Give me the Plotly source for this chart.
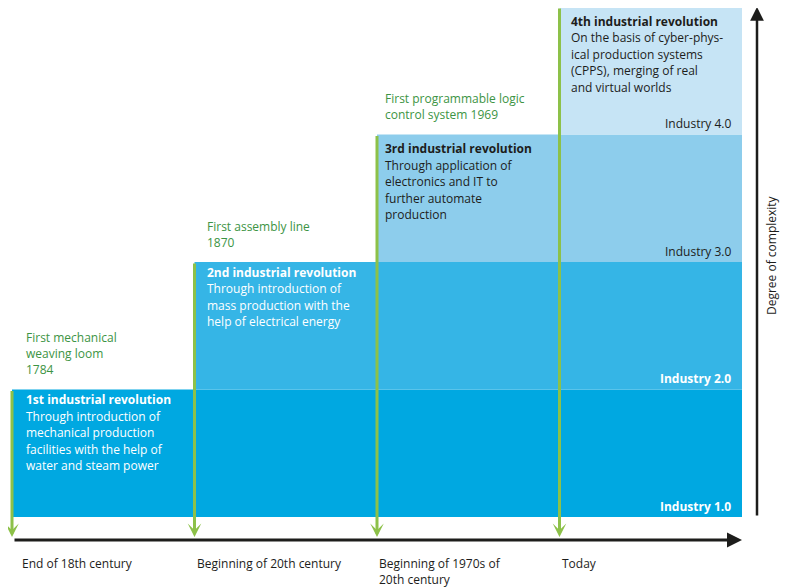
import plotly.graph_objects as go

# ---------------- data ----------------
stage_index = [0, 1, 2, 3]
stage_labels = [["End of 18th century"], ["Beginning of 20th century"],
                ["Beginning of 1970s of", "20th century"], ["Today"]]
level_index = [1, 2, 3, 4]
level_labels = ["Industry 1.0", "Industry 2.0", "Industry 3.0", "Industry 4.0"]
revolution_titles = ["1st industrial revolution", "2nd industrial revolution",
                     "3rd industrial revolution", "4th industrial revolution"]
revolution_texts = [
    ["Through introduction of", "mechanical production",
     "facilities with the help of", "water and steam power"],
    ["Through introduction of", "mass production with the",
     "help of electrical energy"],
    ["Through application of", "electronics and IT to",
     "further automate", "production"],
    ["On the basis of cyber-phys-", "ical production systems",
     "(CPPS), merging of real", "and virtual worlds"],
]
milestones = [["First mechanical", "weaving loom", "1784"],
              ["First assembly line", "1870"],
              ["First programmable logic", "control system 1969"],
              None]
y_title = "Degree of complexity"

# ---------------- styles ----------------
band_colors = ["#00A8E1", "#35B5E6", "#8DCDEC", "#C6E4F5"]
text_colors = ["#FFFFFF", "#FFFFFF", "#1D1D1B", "#1D1D1B"]
green_line = "#8DC149"
green_text = "#3C9444"
dark = "#1D1D1B"
FONT = "Open Sans"
PXX = 182.5    # pixels per stage
PXY = 127.5    # pixels per level
W, H = 782, 580   # page body has an 8px margin
X0PX, Y0PX = 4, 509  # plot-pixel position of stage 0 / level 0
n_stages = len(stage_index)
n_levels = len(level_index)
text_dx = [12, 10, 6, 9]
rev_first = [10, 10, 14, 14]
stage_dx = [8, 0, 0, 0]

fig = go.Figure()
fig.add_trace(go.Scatter(x=[0], y=[0], mode="markers", marker=dict(opacity=0),
                         hoverinfo="skip", showlegend=False))

shapes = []
annotations = []


def add_lines(lines, x, y, xshift, first, spacing, size, color, bold_first=False,
              anchor="left"):
    for i, ln in enumerate(lines):
        txt = "<b>" + ln + "</b>" if (bold_first and i == 0) else ln
        annotations.append(dict(
            x=x, y=y - (first + i * spacing) / PXY, xref="x", yref="y",
            xshift=xshift, xanchor=anchor, yanchor="middle",
            showarrow=False, text=txt,
            font=dict(family=FONT, size=size, color=color)))


for k, lvl in enumerate(level_index):
    s = stage_index[k]
    shapes.append(dict(type="rect", xref="x", yref="y", x0=s, x1=n_stages,
                       y0=lvl - 1, y1=lvl, fillcolor=band_colors[k],
                       line=dict(width=0), layer="below"))
    # revolution description
    add_lines([revolution_titles[k]] + revolution_texts[k], s, lvl, text_dx[k],
              rev_first[k], 16.5, 12, text_colors[k], bold_first=True)
    # industry label
    lab = level_labels[k]
    if k < 2:
        lab = "<b>" + lab + "</b>"
    add_lines([lab], n_stages, lvl - 1, -9, -11, 16, 12, text_colors[k],
              anchor="right")
    # milestone label
    if milestones[k]:
        m = milestones[k]
        add_lines(m, s, lvl, text_dx[k], -(20 + (len(m) - 1) * 16), 16, 12,
                  green_text)
    # green down arrow
    annotations.append(dict(
        x=s, y=-20 / PXY, ax=s, ay=lvl, xref="x", yref="y", axref="x", ayref="y",
        text="", showarrow=True, arrowhead=3, arrowsize=0.75, arrowwidth=3,
        arrowcolor=green_line, standoff=0))
    # bottom stage label
    add_lines(stage_labels[k], s, 0, stage_dx[k], 46, 16, 12, dark)

# time axis arrow
annotations.append(dict(
    x=n_stages, y=-23 / PXY, ax=1 / PXX, ay=-23 / PXY, xref="x", yref="y",
    axref="x", ayref="y", text="", showarrow=True, arrowhead=2, arrowsize=1.0,
    arrowwidth=3, arrowcolor=dark, standoff=0))
# complexity axis arrow
vx = n_stages + 15 / PXX
annotations.append(dict(
    x=vx, y=n_levels, ax=vx, ay=0, xref="x", yref="y", axref="x", ayref="y",
    text="", showarrow=True, arrowhead=2, arrowsize=1.1, arrowwidth=2.5,
    arrowcolor=dark, standoff=0))
annotations.append(dict(
    x=n_stages + 29 / PXX, y=(517 - 255) / PXY, xref="x", yref="y",
    text=y_title, textangle=-90, showarrow=False,
    font=dict(family=FONT, size=12, color=dark)))

fig.update_layout(
    width=W, height=H, autosize=False,
    margin=dict(l=0, r=0, t=0, b=0),
    paper_bgcolor="white", plot_bgcolor="white",
    shapes=shapes, annotations=annotations, showlegend=False,
    xaxis=dict(range=[-X0PX / PXX, (W - X0PX) / PXX], visible=False, fixedrange=True),
    yaxis=dict(range=[-(H - Y0PX) / PXY, Y0PX / PXY], visible=False, fixedrange=True),
)
fig.write_html("out.html")
